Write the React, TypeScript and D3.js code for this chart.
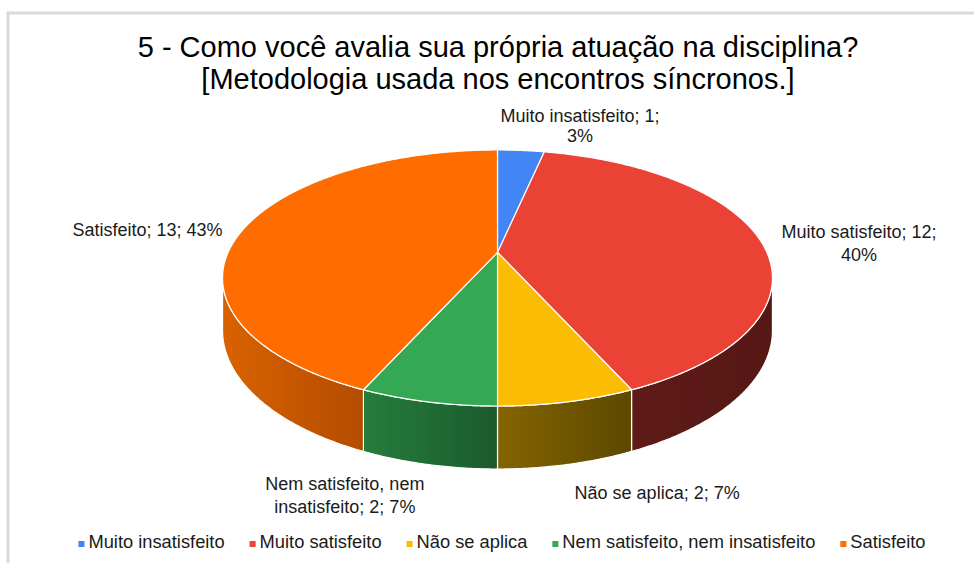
import { useEffect, useRef } from 'react'
import * as d3 from 'd3'

const categories = [
  'Muito insatisfeito',
  'Muito satisfeito',
  'Não se aplica',
  'Nem satisfeito, nem insatisfeito',
  'Satisfeito',
]
const counts = [1, 12, 2, 2, 13]
const topColors = ['#4285f4', '#ea4335', '#fbbc04', '#34a853', '#ff6d01']
// side wall gradient (left -> right)
const sideColors = [
  ['#2f5fae', '#27508f'],
  ['#5e1b17', '#561815'],
  ['#846400', '#5c4800'],
  ['#257d3d', '#1b5a2d'],
  ['#d96200', '#b44c00'],
]
const labelLines = [
  ['Muito insatisfeito; 1;', '3%'],
  ['Muito satisfeito; 12;', '40%'],
  ['Não se aplica; 2; 7%'],
  ['Nem satisfeito, nem', 'insatisfeito; 2; 7%'],
  ['Satisfeito; 13; 43%'],
]
const titleLines = [
  '5 - Como você avalia sua própria atuação na disciplina?',
  '[Metodologia usada nos encontros síncronos.]',
]

const W = 974
const H = 563
const FONT = '"Liberation Sans", Arial, Helvetica, sans-serif'

export default function App() {
  const svgRef = useRef<SVGSVGElement>(null)

  useEffect(() => {
    if (!svgRef.current) return
    const svg = d3.select(svgRef.current)
    svg.selectAll('*').remove()

    // chart frame
    svg.append('rect')
      .attr('x', 8).attr('y', 13)
      .attr('width', 1100).attr('height', 700)
      .attr('fill', 'white')
      .attr('stroke', '#d9d9d9')
      .attr('stroke-width', 3)

    // title
    svg.append('text')
      .attr('text-anchor', 'middle')
      .style('font-family', FONT)
      .style('font-size', '29px')
      .attr('fill', '#000')
      .selectAll('tspan')
      .data(titleLines)
      .enter().append('tspan')
      .attr('x', 498)
      .attr('y', (_, i) => 57 + i * 32)
      .text(d => d)

    // perspective projection of the pie disc
    const cx = 497.5, cy = 252.4
    const rx = 269.4, ry = 122.9
    const k = 0.2
    const depth = 50.4
    const proj = (a: number, h = 0): [number, number] => {
      const u = Math.sin(a), v = Math.cos(a)
      const w = 1 + k * v
      return [cx + rx * u / w, cy - ry * v / w + h * depth / w]
    }
    const rim = (a0: number, a1: number, h = 0) => {
      const n = Math.max(2, Math.ceil(Math.abs(a1 - a0) / 0.008))
      return d3.range(n + 1).map(i => proj(a0 + (a1 - a0) * i / n, h))
    }

    const arcs = d3.pie<number>().sort(null).startAngle(0).endAngle(2 * Math.PI)(counts)

    const defs = svg.append('defs')
    sideColors.forEach((c, i) => {
      const g = defs.append('linearGradient')
        .attr('id', `side${i}`)
        .attr('x1', 0).attr('x2', 1).attr('y1', 0).attr('y2', 0)
      g.append('stop').attr('offset', 0).attr('stop-color', c[0])
      g.append('stop').attr('offset', 1).attr('stop-color', c[1])
    })

    const line = d3.line()
    const s0 = Math.acos(-k)
    const s1 = 2 * Math.PI - s0

    // side walls (front visible part)
    const walls = svg.append('g')
    arcs.forEach((d, i) => {
      const a0 = Math.max(d.startAngle, s0)
      const a1 = Math.min(d.endAngle, s1)
      if (a1 <= a0) return
      const pts = [...rim(a0, a1, 0), ...rim(a1, a0, 1)]
      walls.append('path')
        .attr('d', line(pts) + 'Z')
        .attr('fill', `url(#side${i})`)
        .attr('stroke', 'white')
        .attr('stroke-width', 1.2)
        .attr('stroke-linejoin', 'round')
    })

    // top faces
    const tops = svg.append('g')
    arcs.forEach((d, i) => {
      const pts: [number, number][] = [[cx, cy], ...rim(d.startAngle, d.endAngle, 0)]
      tops.append('path')
        .attr('d', line(pts) + 'Z')
        .attr('fill', topColors[i])
        .attr('stroke', 'white')
        .attr('stroke-width', 1.2)
        .attr('stroke-linejoin', 'round')
    })

    // data labels, placed relative to the slice's mid angle
    const labelNudge: [number, number, string, number, number][] = [
      [59, -28, 'middle', 0, 20],
      [99, -2, 'middle', 0, 23],
      [90, 34, 'middle', 1, 23],
      [-83, 25, 'middle', 1, 23],
      [-22, 8, 'end', 0, 23],
    ]
    const labels = svg.append('g')
      .style('font-family', FONT)
      .style('font-size', '18px')
      .attr('fill', '#1a1a1a')
    arcs.forEach((d, i) => {
      const mid = (d.startAngle + d.endAngle) / 2
      const [nx, ny, anchor, h, lh] = labelNudge[i]
      const [px, py] = proj(mid, h)
      labels.append('text')
        .attr('text-anchor', anchor)
        .selectAll('tspan')
        .data(labelLines[i])
        .enter().append('tspan')
        .attr('x', px + nx)
        .attr('y', (_, j) => py + ny + j * lh)
        .text(t => t)
    })

    // legend
    const legend = svg.append('g')
      .style('font-family', FONT)
      .style('font-size', '18.3px')
    const items = categories.map((c, i) => {
      const g = legend.append('g')
      g.append('rect')
        .attr('y', -7).attr('width', 6).attr('height', 6)
        .attr('fill', topColors[i])
      const t = g.append('text')
        .attr('x', 10).attr('y', 0)
        .attr('fill', '#1a1a1a')
        .text(c)
      const tw = (t.node() as SVGTextElement).getComputedTextLength()
      return { g, w: 10 + tw }
    })
    const gap = 25
    const totalW = d3.sum(items, d => d.w) + gap * (items.length - 1)
    let x = 502 - totalW / 2
    items.forEach(it => {
      it.g.attr('transform', `translate(${x},548)`)
      x += it.w + gap
    })
  }, [])

  return (
    <svg
      ref={svgRef}
      width={W}
      height={H}
      style={{ position: 'absolute', left: 0, top: 0, background: 'white' }}
    />
  )
}
